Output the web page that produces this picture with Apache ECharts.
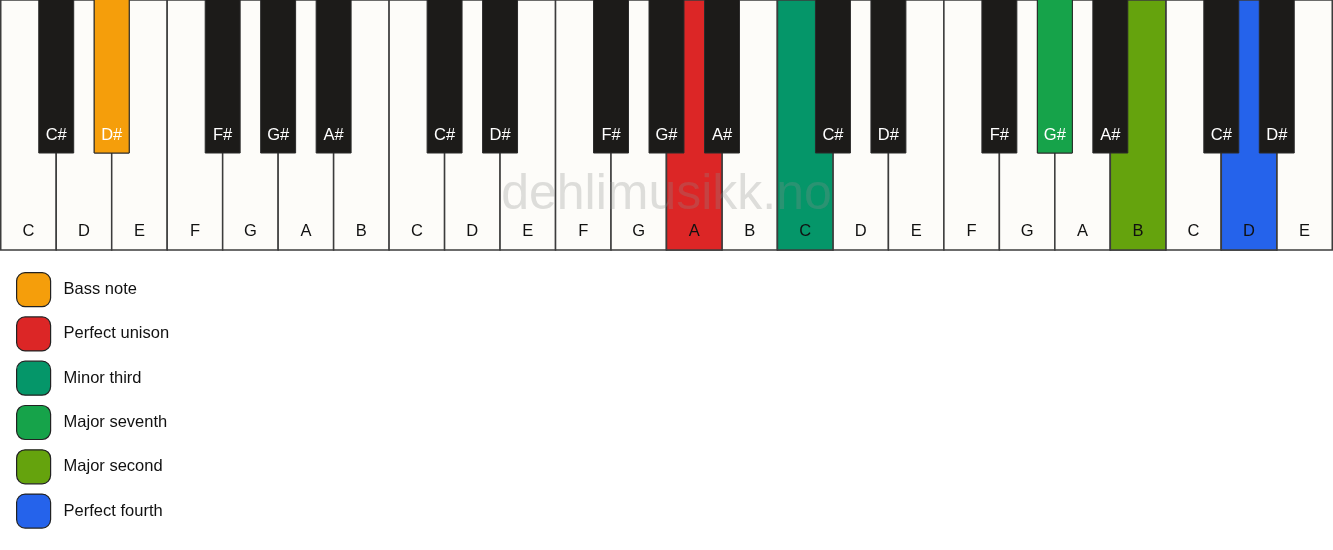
<!DOCTYPE html>
<html lang="en">
<head>
    <meta charset="UTF-8">
    <title>Piano chord</title>
    <script src="https://cdn.jsdelivr.net/npm/echarts@6/dist/echarts.min.js"></script>
    <style>
        body { margin: 0; background: #fff; }
        #chart { width: 1333px; height: 550px; }
    </style>
</head>
<body>
<div id="chart"></div>
<script>
// keyboard data
const whiteKeys = ['C','D','E','F','G','A','B','C','D','E','F','G','A','B','C','D','E','F','G','A','B','C','D','E'];
const blackKeys = ['C#','D#','F#','G#','A#','C#','D#','F#','G#','A#','C#','D#','F#','G#','A#','C#','D#'];
const blackKeyPos = [1,2,4,5,6,8,9,11,12,13,15,16,18,19,20,22,23];

// highlighted notes
const intervalNames = ['Bass note','Perfect unison','Minor third','Major seventh','Major second','Perfect fourth'];
const intervalColors = ['#f59e0b','#dc2626','#059669','#16a34a','#65a30d','#2563eb'];
const intervalKeyType = ['black','white','white','black','white','white'];
const intervalKeyPos = [2,12,14,19,20,22];

const FONT = '16.5px "Liberation Sans", Arial, sans-serif';
const BLACK_HALF = 0.315;
const BLACK_BOTTOM = 1 - 153 / 250;

function whiteKey(api, pos, label, fill) {
    const p0 = api.coord([pos, 1]);
    const p1 = api.coord([pos + 1, 0]);
    const ty = api.coord([0, 0.074])[1];
    return {
        type: 'group',
        children: [
            { type: 'rect', shape: { x: p0[0], y: p0[1], width: p1[0] - p0[0], height: p1[1] - p0[1] },
              style: { fill: fill, stroke: '#3c3c3c', lineWidth: 1.5 } },
            { type: 'text', style: { text: label, x: (p0[0] + p1[0]) / 2, y: ty, align: 'center', verticalAlign: 'middle', fill: '#111', font: FONT } }
        ]
    };
}

function blackKey(api, pos, label, fill) {
    const p0 = api.coord([pos - BLACK_HALF, 1]);
    const p1 = api.coord([pos + BLACK_HALF, BLACK_BOTTOM]);
    const ty = api.coord([0, 0.46])[1];
    return {
        type: 'group',
        children: [
            { type: 'rect', shape: { x: p0[0], y: p0[1] - 2, width: p1[0] - p0[0], height: p1[1] - p0[1] + 2 },
              style: { fill: fill, stroke: '#2a2a2a', lineWidth: 1 } },
            { type: 'text', style: { text: label, x: (p0[0] + p1[0]) / 2, y: ty, align: 'center', verticalAlign: 'middle', fill: '#fff', font: FONT } }
        ]
    };
}

const series = [];
series.push({
    type: 'custom', name: 'white', z: 1, clip: false, silent: true,
    data: whiteKeys.map((n, i) => [i]),
    renderItem: (params, api) => whiteKey(api, api.value(0), whiteKeys[params.dataIndex], '#fdfcf9')
});
series.push({
    type: 'custom', name: 'black', z: 3, clip: false, silent: true,
    data: blackKeyPos.map(p => [p]),
    renderItem: (params, api) => blackKey(api, api.value(0), blackKeys[params.dataIndex], '#1c1b19')
});
intervalNames.forEach((name, k) => {
    const isBlack = intervalKeyType[k] === 'black';
    const pos = intervalKeyPos[k];
    series.push({
        type: 'custom', name: name, z: isBlack ? 4 : 2, clip: false, silent: true,
        itemStyle: { color: intervalColors[k] },
        data: [[pos]],
        renderItem: (params, api) => isBlack
            ? blackKey(api, api.value(0), blackKeys[blackKeyPos.indexOf(pos)], intervalColors[k])
            : whiteKey(api, api.value(0), whiteKeys[pos], intervalColors[k])
    });
});

const chart = echarts.init(document.getElementById('chart'));
chart.setOption({
    backgroundColor: '#fff',
    animation: false,
    grid: { left: 0.75, right: 0.75, top: 0, height: 250 },
    xAxis: { type: 'value', min: 0, max: 24, show: false },
    yAxis: { type: 'value', min: 0, max: 1, show: false },
    legend: {
        data: intervalNames,
        orient: 'vertical',
        left: 16, top: 272,
        padding: 0,
        itemWidth: 34, itemHeight: 34, itemGap: 9.1,
        icon: 'roundRect',
        selectedMode: false,
        itemStyle: { borderColor: '#222', borderWidth: 1.2 },
        textStyle: { color: '#111', fontSize: 16.5, fontFamily: '"Liberation Sans", Arial, sans-serif', padding: [0, 0, 0, 8] }
    },
    graphic: [{
        type: 'text', left: 'center', top: 170, z: 100, silent: true,
        style: { text: 'dehlimusikk.no', font: '50px "Liberation Sans", Arial, sans-serif', fill: 'rgba(140,140,140,0.28)' }
    }],
    series: series
});
</script>
</body>
</html>
